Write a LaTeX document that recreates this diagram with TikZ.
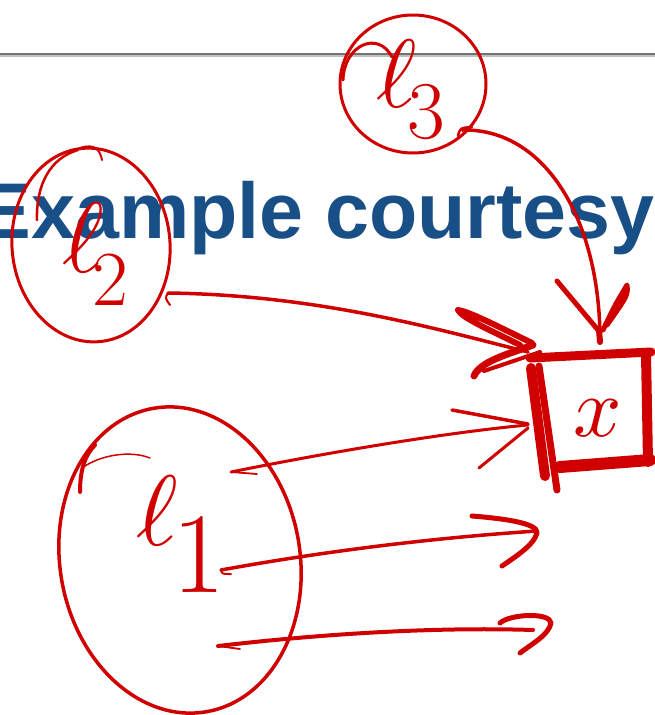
\documentclass[tikz,border=0pt]{standalone}
\usepackage{unicode-math}
\newfontfamily\titlefont{Liberation Sans}
\usetikzlibrary{shapes.geometric,calc}
\definecolor{inkred}{RGB}{208,0,0}
\definecolor{slideblue}{RGB}{24,79,135}
\begin{document}
\begin{tikzpicture}[x=1pt,y=-1pt,
  ink/.style={draw=inkred,line cap=round,line join=round},
  circ/.style={ellipse,draw=inkred,inner sep=0pt,line width=3pt},
  shaft/.style={ink,line width=3.5pt},
  barb/.style={ink,line width=5pt},
  lab/.style={text=inkred,inner sep=0pt,anchor=base west},
]
\useasboundingbox (0,0) rectangle (655,715);
\fill[white] (0,0) rectangle (655,715);
% slide background
\draw[black!25,line width=2pt] (0,56) -- (655,56);
\draw[black!55,line width=2.2pt] (0,54) -- (655,54);
\node[anchor=base east,inner sep=0pt,text=slideblue,font=\titlefont\bfseries\fontsize{79}{80}\selectfont] (title) at (655,238) {Example courtesy};
% circles
\node[circ,line width=3.5pt,minimum width=240pt,minimum height=308pt,rotate=10] (c1) at (180,560) {};
\node[circ,minimum width=158pt,minimum height=194pt,rotate=5] (c2) at (91,245) {};
\node[circ,minimum width=146pt,minimum height=138pt] (c3) at (413,84) {};
\draw[ink,line width=4pt] (80,492) .. controls (80,470) and (85,455) .. (95,445);
\draw[ink,line width=1.5pt] (82,468) .. controls (100,455) and (130,450) .. (150,458);
\draw[ink,line width=2.5pt] (37,220) .. controls (36,185) and (50,158) .. (78,150);
\draw[ink,line width=2pt] (80,148) .. controls (95,143) and (100,150) .. (102,160);
\draw[ink,line width=3pt] (343,80) .. controls (344,45) and (378,30) .. (392,57);
% labels
\node[lab] (l1) at (136,545) {\fontsize{100}{100}\selectfont$\ell$\kern-6pt\raisebox{-47pt}{\fontsize{115}{115}\selectfont 1}};
\node[lab] (l2) at (62,272) {\fontsize{100}{100}\selectfont$\ell$\kern-12pt\raisebox{-33pt}{\fontsize{78}{78}\selectfont 2}};
\node[lab] (l3) at (376,107) {\fontsize{97}{97}\selectfont$\ell$\kern-10pt\raisebox{-31pt}{\fontsize{82}{82}\selectfont 3}};
% box with x
\node[text=inkred,inner sep=0pt,font=\fontsize{85}{85}\selectfont] (sq) at (598,418) {$x$};
\draw[ink,line width=9pt] (530,358) -- (651,352);
\draw[ink,line width=10pt] (646,354) -- (648,462);
\draw[ink,line width=12pt] (560,467) -- (650,460);
\draw[ink,line width=10pt] (531,368) -- (545,476);
\draw[ink,line width=7pt] (539,366) -- (557,490);
% connector l3 -> x
\coordinate (s3) at (462,130);
\coordinate (t3) at (600,340);
\draw[shaft] (s3) .. controls (545,128) and (600,220) .. (t3);
\draw[ink,line width=2.5pt] (458,136) .. controls (460,128) .. (472,127);
\draw[barb] (557,281) -- (598,330);
\draw[barb] (603,330) .. controls (615,305) .. (627,285) .. controls (628,295) .. (607,325);
\draw[ink,line width=6pt] (599,330) -- (600,342);
% connector l2 -> x
\coordinate (s2) at (168,293);
\coordinate (t2) at (528,352);
\draw[shaft] (s2) .. controls (320,295) and (440,330) .. (t2);
\draw[ink,line width=2pt] (s2) .. controls (165,298) .. (170,305);
\draw[barb,line width=6pt] (532,343) .. controls (495,325) and (470,312) .. (458,310) .. controls (462,318) and (490,330) .. (520,345);
\draw[barb,line width=7pt] (533,345) .. controls (505,355) and (480,362) .. (474,376);
\draw[ink,line width=4pt] (484,371) -- (540,352);
% connectors from l1
\coordinate (s1a) at (231,472);
\coordinate (t1a) at (528,425);
\draw[shaft,line width=3pt] (s1a) .. controls (330,452) and (450,432) .. (t1a);
\draw[ink,line width=1.8pt] (s1a) -- (257,474);
\draw[ink,line width=3.5pt] (452,410) -- (528,424);
\draw[ink,line width=3pt] (528,428) -- (479,468);
\coordinate (s1b) at (221,570);
\coordinate (t1b) at (537,531);
\draw[shaft] (s1b) .. controls (320,552) and (430,538) .. (t1b);
\draw[ink,line width=2pt] (s1b) .. controls (222,574) .. (231,574);
\draw[barb] (472,516) .. controls (510,519) and (538,524) .. (537,533) .. controls (534,545) and (515,557) .. (502,566);
\coordinate (s1c) at (218,646);
\coordinate (t1c) at (533,630);
\draw[shaft,line width=4pt] (s1c) .. controls (330,633) and (440,627) .. (t1c);
\draw[ink,line width=1.8pt] (s1c) -- (240,649);
\draw[barb] (500,623) .. controls (510,614) and (550,612) .. (551,623) .. controls (549,635) and (530,645) .. (520,653);
\end{tikzpicture}
\end{document}
